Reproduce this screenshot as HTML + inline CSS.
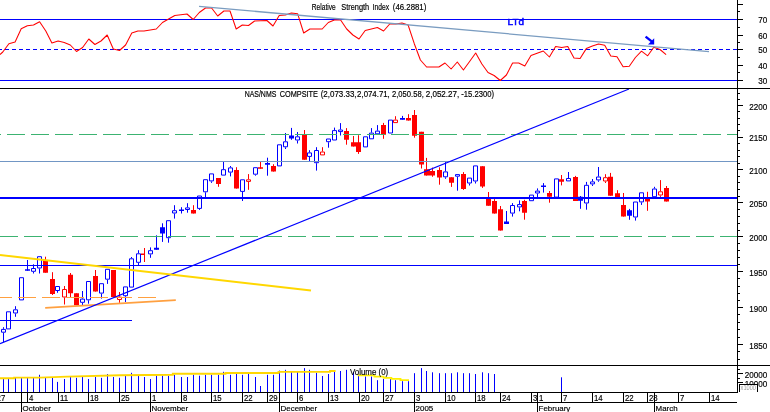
<!DOCTYPE html>
<html lang="en"><head><meta charset="utf-8"><title>NAS/NMS COMPSITE chart</title>
<style>html,body{margin:0;padding:0;background:#fff;overflow:hidden}svg{display:block}text{font-family:"Liberation Sans",Arial,sans-serif;font-size:8px;fill:#000;stroke:#000;stroke-width:0.18px}.c{shape-rendering:crispEdges}</style></head><body>
<svg width="770" height="412" viewBox="0 0 770 412">
<rect width="770" height="412" fill="#fff"/>
<path d="M3.5 327.2V328.9M3.5 332.7V342.0M15.5 306.2V309.3M15.5 313.5V316.8M27.5 260.0V270.7M33.5 264.3V268.0M33.5 271.8V273.5M39.5 268.5V273.5M57.5 291.0V292.8M82.5 291.0V298.6M82.5 302.8V305.3M88.5 300.3V303.7M101.5 293.6V298.6M107.5 279.7V283.9M125.5 296.2V302.0M131.5 257.0V258.3M138.5 250.2V253.3M138.5 262.8V265.3M150.5 247.4V250.2M150.5 254.4V257.8M156.5 235.3V249.7M162.5 223.3V241.9M168.5 238.2V242.7M174.5 205.2V210.2M174.5 213.5V218.6M181.5 207.2V213.5M187.5 203.2V207.4M187.5 210.0V212.7M199.5 208.9V209.9M205.5 192.3V197.6M211.5 181.4V182.9M223.5 161.8V169.2M230.5 166.0V167.4M230.5 172.6V176.4M242.5 191.9V201.0M255.5 174.7V175.7M267.5 157.7V175.7M285.5 133.0V141.3M285.5 147.3V149.0M291.5 127.9V139.8M297.5 132.0V136.3M297.5 140.5V143.5M309.5 150.2V152.4M309.5 156.9V161.0M316.5 147.2V150.0M316.5 163.2V170.6M328.5 142.2V147.7M334.5 127.6V130.1M340.5 123.1V129.5M340.5 132.1V135.5M371.5 128.1V132.6M377.5 125.1V130.6M402.5 115.9V119.7M445.5 162.1V171.4M445.5 177.3V178.8M457.5 176.7V190.7M469.5 183.5V185.5M475.5 181.5V183.5M506.5 211.0V224.0M512.5 203.1V205.0M512.5 213.6V216.6M519.5 200.4V204.1M519.5 207.4V211.3M537.5 188.4V190.6M537.5 193.5V197.6M543.5 183.1V192.6M568.5 172.0V178.0M580.5 196.0V208.8M586.5 181.9V184.8M586.5 203.5V209.7M592.5 179.0V181.4M592.5 184.4V186.0M598.5 167.0V176.5M598.5 180.4V181.8M629.5 208.9V219.8M635.5 217.5V220.6M641.5 202.4V204.9M654.5 186.8V188.5" stroke="#0000ff" stroke-width="1" fill="none"/>
<path d="M25.0 269.3h5V270.8h-5zM154.0 247.7h5V249.7h-5zM160.0 227.3h5V233.6h-5zM179.0 209.4h5V211.0h-5zM265.0 162.9h5V164.8h-5zM289.0 135.4h5V138.5h-5zM400.0 118.0h5V119.7h-5zM504.0 221.6h5V224.0h-5zM541.0 185.4h5V187.0h-5zM578.0 196.8h5V200.7h-5zM627.0 210.3h5V215.8h-5z" fill="#0000ff"/>
<path d="M1.5 329.4h4V332.2h-4zM6.5 311.8h4V328.9h-4zM13.5 309.8h4V313.0h-4zM19.5 277.7h4V299.9h-4zM31.5 268.5h4V271.3h-4zM37.5 256.7h4V268.0h-4zM55.5 286.5h4V290.5h-4zM80.5 299.1h4V302.3h-4zM86.5 281.5h4V299.8h-4zM99.5 283.7h4V293.1h-4zM105.5 269.3h4V279.2h-4zM123.5 286.9h4V295.7h-4zM129.5 258.8h4V287.1h-4zM136.5 253.8h4V262.3h-4zM148.5 250.7h4V253.9h-4zM166.5 220.7h4V237.7h-4zM172.5 210.7h4V213.0h-4zM185.5 207.9h4V209.5h-4zM197.5 196.0h4V208.4h-4zM203.5 179.7h4V191.8h-4zM209.5 173.9h4V180.9h-4zM221.5 169.7h4V175.1h-4zM228.5 167.9h4V172.1h-4zM240.5 179.8h4V191.4h-4zM253.5 167.7h4V174.2h-4zM277.5 144.8h4V165.9h-4zM283.5 141.8h4V146.8h-4zM295.5 136.8h4V140.0h-4zM307.5 152.9h4V156.4h-4zM314.5 150.5h4V162.7h-4zM326.5 139.0h4V141.7h-4zM332.5 130.6h4V140.0h-4zM338.5 130.0h4V131.6h-4zM363.5 136.8h4V146.9h-4zM369.5 133.1h4V138.8h-4zM375.5 131.1h4V133.8h-4zM388.5 120.1h4V133.0h-4zM443.5 171.9h4V176.8h-4zM455.5 174.6h4V176.2h-4zM467.5 178.1h4V183.0h-4zM473.5 165.9h4V181.0h-4zM510.5 205.5h4V213.1h-4zM517.5 204.6h4V206.9h-4zM529.5 195.1h4V200.7h-4zM535.5 191.1h4V193.0h-4zM554.5 178.9h4V197.1h-4zM566.5 178.5h4V180.9h-4zM584.5 185.3h4V203.0h-4zM590.5 181.9h4V183.9h-4zM596.5 177.0h4V179.9h-4zM633.5 202.0h4V217.0h-4zM639.5 192.8h4V201.9h-4zM652.5 189.0h4V196.7h-4z" stroke="#0000ff" stroke-width="1" fill="none"/>
<path d="M45.5 256.7V272.7M52.5 272.2V295.0M64.5 286.0V289.0M64.5 297.5V304.5M70.5 273.0V297.0M76.5 293.3V305.3M95.5 270.0V291.6M113.5 270.0V297.0M119.5 292.0V296.6M119.5 300.0V302.8M144.5 248.0V262.0M193.5 205.2V213.5M218.5 178.1V186.8M236.5 167.2V188.6M248.5 174.1V179.2M248.5 181.9V189.8M260.5 161.8V168.7M273.5 164.2V171.6M304.5 130.0V159.7M322.5 147.2V151.5M346.5 128.1V144.7M353.5 136.0V146.5M358.5 135.2V153.9M383.5 122.9V138.8M395.5 116.2V119.6M408.5 114.2V120.6M414.5 110.0V137.7M421.5 131.8V168.5M426.5 157.9V175.6M432.5 167.6V176.8M439.5 167.3V184.7M451.5 177.3V186.9M463.5 172.1V189.9M482.5 166.2V187.9M488.5 192.0V205.7M494.5 199.1V213.6M500.5 206.0V230.6M524.5 199.8V219.7M549.5 191.0V202.7M561.5 175.0V185.4M575.5 175.9V201.0M605.5 174.2V177.2M605.5 181.5V183.0M610.5 172.9V195.7M617.5 190.2V196.9M623.5 193.0V216.6M647.5 191.8V210.8M660.5 180.1V191.3M660.5 195.5V196.9M666.5 186.0V201.5" stroke="#ff0000" stroke-width="1" fill="none"/>
<path d="M43.0 260.0h5V272.7h-5zM50.0 278.9h5V294.0h-5zM68.0 274.8h5V293.3h-5zM74.0 293.3h5V305.3h-5zM93.0 276.0h5V291.6h-5zM111.0 270.0h5V297.0h-5zM141.0 253.4h4V254.9h-4zM191.0 209.9h5V213.5h-5zM216.0 178.1h5V183.9h-5zM234.0 170.0h5V188.6h-5zM258.0 167.2h5V168.7h-5zM271.0 166.0h5V171.6h-5zM302.0 134.8h5V159.7h-5zM344.0 131.0h5V139.7h-5zM351.0 142.2h5V146.5h-5zM356.0 142.2h5V151.9h-5zM381.0 125.1h5V134.8h-5zM406.0 117.9h5V120.6h-5zM412.0 115.0h5V135.7h-5zM419.0 131.8h5V164.6h-5zM424.0 169.3h6V175.6h-6zM430.0 171.0h5V175.6h-5zM437.0 170.1h5V177.6h-5zM449.0 177.3h5V182.7h-5zM461.0 174.0h5V188.9h-5zM480.0 166.2h5V186.6h-5zM486.0 198.5h5V205.7h-5zM492.0 201.0h5V213.6h-5zM498.0 209.2h5V230.6h-5zM522.0 201.0h5V212.7h-5zM547.0 193.1h5V196.8h-5zM559.0 179.2h5V181.7h-5zM573.0 177.0h5V201.0h-5zM608.0 176.8h5V195.7h-5zM615.0 193.2h5V196.9h-5zM621.0 204.9h5V216.6h-5zM645.0 199.0h5V201.5h-5zM664.0 188.1h5V201.5h-5z" fill="#ff0000"/>
<path d="M62.5 289.5h4V297.0h-4zM117.5 297.1h4V299.5h-4zM246.5 179.8h4V181.4h-4zM320.5 152.0h4V154.9h-4zM393.5 120.1h4V122.6h-4zM603.5 177.7h4V181.0h-4zM658.5 191.8h4V195.0h-4z" stroke="#ff0000" stroke-width="1" fill="none"/>
<path class="c" d="M0.0 134.5H0.6M7.0 134.5H24.6M31.0 134.5H48.6M55.0 134.5H72.6M79.0 134.5H96.6M103.0 134.5H120.6M127.0 134.5H144.6M151.0 134.5H168.6M175.0 134.5H192.6M199.0 134.5H216.6M223.0 134.5H240.6M247.0 134.5H264.6M271.0 134.5H288.6M295.0 134.5H312.6M319.0 134.5H336.6M343.0 134.5H360.6M367.0 134.5H384.6M391.0 134.5H408.6M415.0 134.5H432.6M439.0 134.5H456.6M463.0 134.5H480.6M487.0 134.5H504.6M511.0 134.5H528.6M535.0 134.5H552.6M559.0 134.5H576.6M583.0 134.5H600.6M607.0 134.5H624.6M631.0 134.5H648.6M655.0 134.5H672.6M679.0 134.5H696.6M703.0 134.5H720.6M727.0 134.5H737.0" stroke="#3cb371" stroke-width="1" fill="none"/>
<path class="c" d="M0 161.5H737" stroke="#7196c4" stroke-width="1"/>
<path class="c" d="M0.3 236.5H17.9M24.3 236.5H41.9M48.3 236.5H65.9M72.3 236.5H89.9M96.3 236.5H113.9M120.3 236.5H137.9M144.3 236.5H161.9M168.3 236.5H185.9M192.3 236.5H209.9M216.3 236.5H233.9M240.3 236.5H257.9M264.3 236.5H281.9M288.3 236.5H305.9M312.3 236.5H329.9M336.3 236.5H353.9M360.3 236.5H377.9M384.3 236.5H401.9M408.3 236.5H425.9M432.3 236.5H449.9M456.3 236.5H473.9M480.3 236.5H497.9M504.3 236.5H521.9M528.3 236.5H545.9M552.3 236.5H569.9M576.3 236.5H593.9M600.3 236.5H617.9M624.3 236.5H641.9M648.3 236.5H665.9M672.3 236.5H689.9M696.3 236.5H713.9M720.3 236.5H737.0" stroke="#3cb371" stroke-width="1" fill="none"/>
<path class="c" d="M0 265.5H737" stroke="#0000ff" stroke-width="1"/>
<path class="c" d="M0 320.5H132" stroke="#0000ff" stroke-width="1"/>
<path class="c" d="M0.0 297.5H11.6M18.0 297.5H35.6M42.0 297.5H59.6M66.0 297.5H83.6M90.0 297.5H107.6M114.0 297.5H131.6M138.0 297.5H155.6" stroke="#ffa040" stroke-width="1" fill="none"/>
<path d="M45.2 307.9L175.8 300.1" stroke="#ffa040" stroke-width="1.8" fill="none"/>
<path class="c" d="M0 198H737" stroke="#0000ff" stroke-width="2"/>
<path d="M0 343.6L629 89" stroke="#0000ff" stroke-width="1.2" fill="none"/>
<path d="M0 255.1L311 290.6" stroke="#ffd700" stroke-width="2" fill="none"/>
<path class="c" d="M0 19.5H737M0 80.5H737" stroke="#0000ff" stroke-width="1" fill="none"/>
<path class="c" d="M0 49.5H737" stroke="#0000ff" stroke-width="1" stroke-dasharray="4 3" stroke-dashoffset="2" fill="none"/>
<polyline points="0,54.5 2.8,52.0 8.9,43.8 15.1,42.0 21.2,28.7 27.3,25.7 33.5,25.0 39.6,21.7 45.8,31.0 51.9,43.0 58.1,41.0 64.2,42.5 70.3,45.0 76.5,51.5 82.6,47.5 88.8,39.0 94.9,44.5 101.0,41.0 107.2,35.0 113.3,49.0 119.5,50.5 125.6,45.0 131.8,33.0 137.9,31.0 144.0,31.0 150.2,30.0 156.3,29.0 162.5,22.5 168.6,19.0 174.8,15.5 180.9,14.7 187.0,14.0 193.2,19.5 199.3,12.5 205.5,8.0 211.6,8.0 217.7,16.0 223.9,11.0 230.0,11.0 236.2,29.0 242.3,25.0 248.5,25.5 254.6,21.0 260.7,20.7 266.9,20.5 273.0,26.0 279.2,15.5 285.3,15.0 291.4,13.0 297.6,13.7 303.7,33.0 309.9,29.0 316.0,29.0 322.2,29.0 328.3,22.5 334.4,20.0 340.6,20.0 346.7,29.0 352.9,35.0 359.0,39.0 365.2,30.5 371.3,29.0 377.4,27.5 383.6,31.0 389.7,24.0 395.9,24.0 402.0,23.0 408.1,25.0 414.3,43.7 420.4,60.0 426.6,67.0 432.7,67.0 438.9,67.0 445.0,63.0 451.1,69.0 457.3,62.0 463.4,70.0 469.6,61.5 475.7,53.0 481.9,64.0 488.0,72.5 494.1,75.5 500.3,80.5 506.4,75.0 512.6,63.0 518.7,63.0 524.8,66.0 531.0,55.5 537.1,53.3 543.3,51.0 549.4,57.0 555.6,46.5 561.7,47.6 567.8,46.5 574.0,58.0 580.1,58.5 586.3,48.6 592.4,46.0 598.5,44.0 604.7,45.3 610.8,56.0 617.0,56.7 623.1,66.7 629.3,66.3 635.4,57.5 641.5,51.2 647.7,55.8 653.8,47.3 660.0,49.5 666.1,54.6" stroke="#ff0000" stroke-width="1.05" fill="none" stroke-linejoin="round"/>
<path d="M199.1 6.4L709 51.6" stroke="#7a9cc0" stroke-width="1.3" fill="none"/>
<text x="507.6" y="25" style="font-size:9.6px;fill:#0000ff;stroke:#0000ff;stroke-width:0.5px" textLength="16.4" lengthAdjust="spacingAndGlyphs">LTd</text>
<path d="M645.6 36.6L652 41.6" stroke="#0000ff" stroke-width="2.4" fill="none"/><path d="M654.2 38.2V44.4H648z" fill="#0000ff"/>
<text x="311.8" y="9.5" style="font-size:9px" textLength="23.9" lengthAdjust="spacingAndGlyphs">Relative</text>
<text x="341.3" y="9.5" style="font-size:9px" textLength="27.9" lengthAdjust="spacingAndGlyphs">Strength</text>
<text x="372.6" y="9.5" style="font-size:9px" textLength="16.4" lengthAdjust="spacingAndGlyphs">Index</text>
<text x="392.8" y="9.5" style="font-size:9px" textLength="33.5" lengthAdjust="spacingAndGlyphs">(46.2881)</text>
<path d="M3.5 378.7V392M8.5 378.7V392M15.5 377.8V392M21.5 377.8V392M27.5 377.8V392M33.5 377.8V392M39.5 374.8V392M45.5 377.8V392M52.5 377.8V392M57.5 381.9V392M64.5 379.0V392M70.5 377.0V392M76.5 377.8V392M82.5 377.0V392M88.5 379.0V392M95.5 377.0V392M101.5 377.8V392M107.5 374.0V392M113.5 377.0V392M119.5 377.8V392M125.5 375.7V392M131.5 372.8V392M138.5 375.7V392M144.5 377.0V392M150.5 379.0V392M156.5 375.7V392M162.5 375.7V392M168.5 375.7V392M174.5 374.8V392M181.5 377.0V392M187.5 377.0V392M193.5 374.8V392M199.5 375.7V392M205.5 374.8V392M211.5 374.8V392M218.5 374.8V392M223.5 371.8V392M230.5 374.8V392M236.5 374.0V392M242.5 374.8V392M248.5 374.0V392M255.5 377.0V392M260.5 386.0V392M267.5 374.8V392M273.5 374.8V392M279.5 370.6V392M285.5 369.8V392M291.5 371.8V392M297.5 371.8V392M304.5 368.1V392M309.5 369.8V392M316.5 372.8V392M322.5 376.0V392M328.5 374.0V392M334.5 370.6V392M340.5 371.0V392M346.5 369.8V392M353.5 371.8V392M358.5 375.7V392M365.5 376.5V392M371.5 376.5V392M377.5 380.2V392M383.5 379.0V392M390.5 379.0V392M395.5 380.2V392M402.5 381.2V392M408.5 381.2V392M414.5 373.2V392M421.5 368.1V392M426.5 371.0V392M432.5 372.3V392M439.5 373.2V392M445.5 373.2V392M451.5 373.2V392M457.5 372.3V392M463.5 373.2V392M469.5 373.2V392M475.5 374.0V392M482.5 372.3V392M488.5 373.2V392M494.5 374.0V392M561.5 377.3V392" stroke="#0000ff" stroke-width="1" fill="none"/>
<path d="M0 378.3H14.2V377.6H40L67 376.6H68L120 375.2L172.8 374.8V373.8H225.5V373H278.5V371.9H330V371H335.6" stroke="#ffd700" stroke-width="1.9" fill="none"/>
<path d="M357.7 375.3H374.5V376.6H383.6V377.8H391.4V378.8H400.5V380.1H409" stroke="#fff000" stroke-width="1.8" fill="none"/>
<text x="350" y="375" style="font-size:9px" textLength="38.2" lengthAdjust="spacingAndGlyphs">Volume (0)</text>
<path class="c" d="M0 88.5H770M0 365.5H770M0 392.5H738M0 402.5H737" stroke="#000" stroke-width="1" fill="none"/>
<path class="c" d="M737.5 0V392" stroke="#000" stroke-width="1" fill="none"/>
<path class="c" d="M738 4.5h5M738 11.5h2M738 19.5h5M738 27.5h2M738 35.5h5M738 42.5h2M738 49.5h5M738 57.5h2M738 65.5h5M738 72.5h2M738 80.5h5" stroke="#000" stroke-width="1" fill="none"/>
<text transform="translate(767.2 23.0) scale(0.87 1)" style="font-size:9.3px" text-anchor="end">70</text>
<text transform="translate(767.2 39.0) scale(0.87 1)" style="font-size:9.3px" text-anchor="end">60</text>
<text transform="translate(767.2 53.0) scale(0.87 1)" style="font-size:9.3px" text-anchor="end">50</text>
<text transform="translate(767.2 69.0) scale(0.87 1)" style="font-size:9.3px" text-anchor="end">40</text>
<text transform="translate(767.2 84.0) scale(0.87 1)" style="font-size:9.3px" text-anchor="end">30</text>
<path class="c" d="M738 359.5h2M738 351.5h2M738 344.5h5M738 337.5h2M738 329.5h2M738 322.5h2M738 314.5h2M738 307.5h5M738 300.5h2M738 293.5h2M738 286.5h2M738 278.5h2M738 271.5h5M738 264.5h2M738 257.5h2M738 250.5h2M738 243.5h2M738 236.5h5M738 230.5h2M738 223.5h2M738 216.5h2M738 209.5h2M738 202.5h5M738 196.5h2M738 189.5h2M738 182.5h2M738 176.5h2M738 169.5h5M738 163.5h2M738 156.5h2M738 150.5h2M738 143.5h2M738 137.5h5M738 130.5h2M738 124.5h2M738 118.5h2M738 111.5h2M738 105.5h5M738 99.5h2M738 93.5h2" stroke="#000" stroke-width="1" fill="none"/>
<text transform="translate(767.2 348.5) scale(0.87 1)" style="font-size:9.3px" text-anchor="end">1850</text>
<text transform="translate(767.2 311.7) scale(0.87 1)" style="font-size:9.3px" text-anchor="end">1900</text>
<text transform="translate(767.2 275.9) scale(0.87 1)" style="font-size:9.3px" text-anchor="end">1950</text>
<text transform="translate(767.2 241.0) scale(0.87 1)" style="font-size:9.3px" text-anchor="end">2000</text>
<text transform="translate(767.2 206.9) scale(0.87 1)" style="font-size:9.3px" text-anchor="end">2050</text>
<text transform="translate(767.2 173.7) scale(0.87 1)" style="font-size:9.3px" text-anchor="end">2100</text>
<text transform="translate(767.2 141.2) scale(0.87 1)" style="font-size:9.3px" text-anchor="end">2150</text>
<text transform="translate(767.2 109.5) scale(0.87 1)" style="font-size:9.3px" text-anchor="end">2200</text>
<path class="c" d="M738 369.5h2M738 373.5h5M738 378.5h2M738 382.5h5" stroke="#000" stroke-width="1" fill="none"/>
<text transform="translate(767.2 378.2) scale(0.87 1)" style="font-size:9.3px" text-anchor="end">20000</text>
<text transform="translate(767.2 387.0) scale(0.87 1)" style="font-size:9.3px" text-anchor="end">10000</text>
<path class="c" d="M739.5 392V384.5H757.5V392" fill="#fff" stroke="#000" stroke-width="1"/>
<text x="740.6" y="389.8" style="font-size:7.5px;fill:#9c9c9c;stroke:none" textLength="15.4" lengthAdjust="spacingAndGlyphs">x1000</text>
<path class="c" d="M27.5 392V402M58.5 392V402M88.5 392V402M119.5 392V402M181.5 392V402M211.5 392V402M242.5 392V402M267.5 392V402M297.5 392V402M328.5 392V402M359.5 392V402M383.5 392V402M445.5 392V402M475.5 392V402M500.5 392V402M531.5 392V402M561.5 392V402M592.5 392V402M623.5 392V402M647.5 392V402M678.5 392V402M709.5 392V402M21.5 392V412M150.5 392V412M279.5 392V412M414.5 392V412M537.5 392V412M654.5 392V412" stroke="#000" stroke-width="1" fill="none"/>
<text transform="translate(-3.4 401.1) scale(0.83 1)" style="font-size:9.4px">27</text>
<text transform="translate(29.0 401.1) scale(0.83 1)" style="font-size:9.4px">4</text>
<text transform="translate(60.0 401.1) scale(0.83 1)" style="font-size:9.4px">11</text>
<text transform="translate(90.0 401.1) scale(0.83 1)" style="font-size:9.4px">18</text>
<text transform="translate(121.0 401.1) scale(0.83 1)" style="font-size:9.4px">25</text>
<text transform="translate(183.0 401.1) scale(0.83 1)" style="font-size:9.4px">8</text>
<text transform="translate(213.0 401.1) scale(0.83 1)" style="font-size:9.4px">15</text>
<text transform="translate(244.0 401.1) scale(0.83 1)" style="font-size:9.4px">22</text>
<text transform="translate(269.0 401.1) scale(0.83 1)" style="font-size:9.4px">29</text>
<text transform="translate(299.0 401.1) scale(0.83 1)" style="font-size:9.4px">6</text>
<text transform="translate(330.0 401.1) scale(0.83 1)" style="font-size:9.4px">13</text>
<text transform="translate(361.0 401.1) scale(0.83 1)" style="font-size:9.4px">20</text>
<text transform="translate(385.0 401.1) scale(0.83 1)" style="font-size:9.4px">27</text>
<text transform="translate(447.0 401.1) scale(0.83 1)" style="font-size:9.4px">10</text>
<text transform="translate(477.0 401.1) scale(0.83 1)" style="font-size:9.4px">18</text>
<text transform="translate(502.0 401.1) scale(0.83 1)" style="font-size:9.4px">24</text>
<text transform="translate(533.0 401.1) scale(0.83 1)" style="font-size:9.4px">3</text>
<text transform="translate(563.0 401.1) scale(0.83 1)" style="font-size:9.4px">7</text>
<text transform="translate(594.0 401.1) scale(0.83 1)" style="font-size:9.4px">14</text>
<text transform="translate(625.0 401.1) scale(0.83 1)" style="font-size:9.4px">22</text>
<text transform="translate(649.0 401.1) scale(0.83 1)" style="font-size:9.4px">28</text>
<text transform="translate(680.0 401.1) scale(0.83 1)" style="font-size:9.4px">7</text>
<text transform="translate(711.0 401.1) scale(0.83 1)" style="font-size:9.4px">14</text>
<text transform="translate(22.6 410.8) scale(0.98 1)" style="font-size:8.1px">October</text>
<text transform="translate(152.0 401.1) scale(0.83 1)" style="font-size:9.4px">1</text>
<text transform="translate(151.6 410.8) scale(0.98 1)" style="font-size:8.1px">November</text>
<text transform="translate(280.6 410.8) scale(0.98 1)" style="font-size:8.1px">December</text>
<text transform="translate(416.0 401.1) scale(0.83 1)" style="font-size:9.4px">3</text>
<text transform="translate(415.6 410.8) scale(0.98 1)" style="font-size:8.1px">2005</text>
<text transform="translate(539.0 401.1) scale(0.83 1)" style="font-size:9.4px">1</text>
<text transform="translate(538.6 410.8) scale(0.98 1)" style="font-size:8.1px">February</text>
<text transform="translate(655.6 410.8) scale(0.98 1)" style="font-size:8.1px">March</text>
<text x="244.7" y="97.3" style="font-size:9px" textLength="31.6" lengthAdjust="spacingAndGlyphs">NAS/NMS</text>
<text x="279.7" y="97.3" style="font-size:9px" textLength="38.3" lengthAdjust="spacingAndGlyphs">COMPSITE</text>
<text x="320.7" y="97.3" style="font-size:9px" textLength="35.9" lengthAdjust="spacingAndGlyphs">(2,073.33,</text>
<text x="357.1" y="97.3" style="font-size:9px" textLength="32.7" lengthAdjust="spacingAndGlyphs">2,074.71,</text>
<text x="392" y="97.3" style="font-size:9px" textLength="31.8" lengthAdjust="spacingAndGlyphs">2,050.58,</text>
<text x="425.7" y="97.3" style="font-size:9px" textLength="33.6" lengthAdjust="spacingAndGlyphs">2,052.27,</text>
<text x="461.2" y="97.3" style="font-size:9px" textLength="32.8" lengthAdjust="spacingAndGlyphs">-15.2300)</text>
</svg></body></html>
